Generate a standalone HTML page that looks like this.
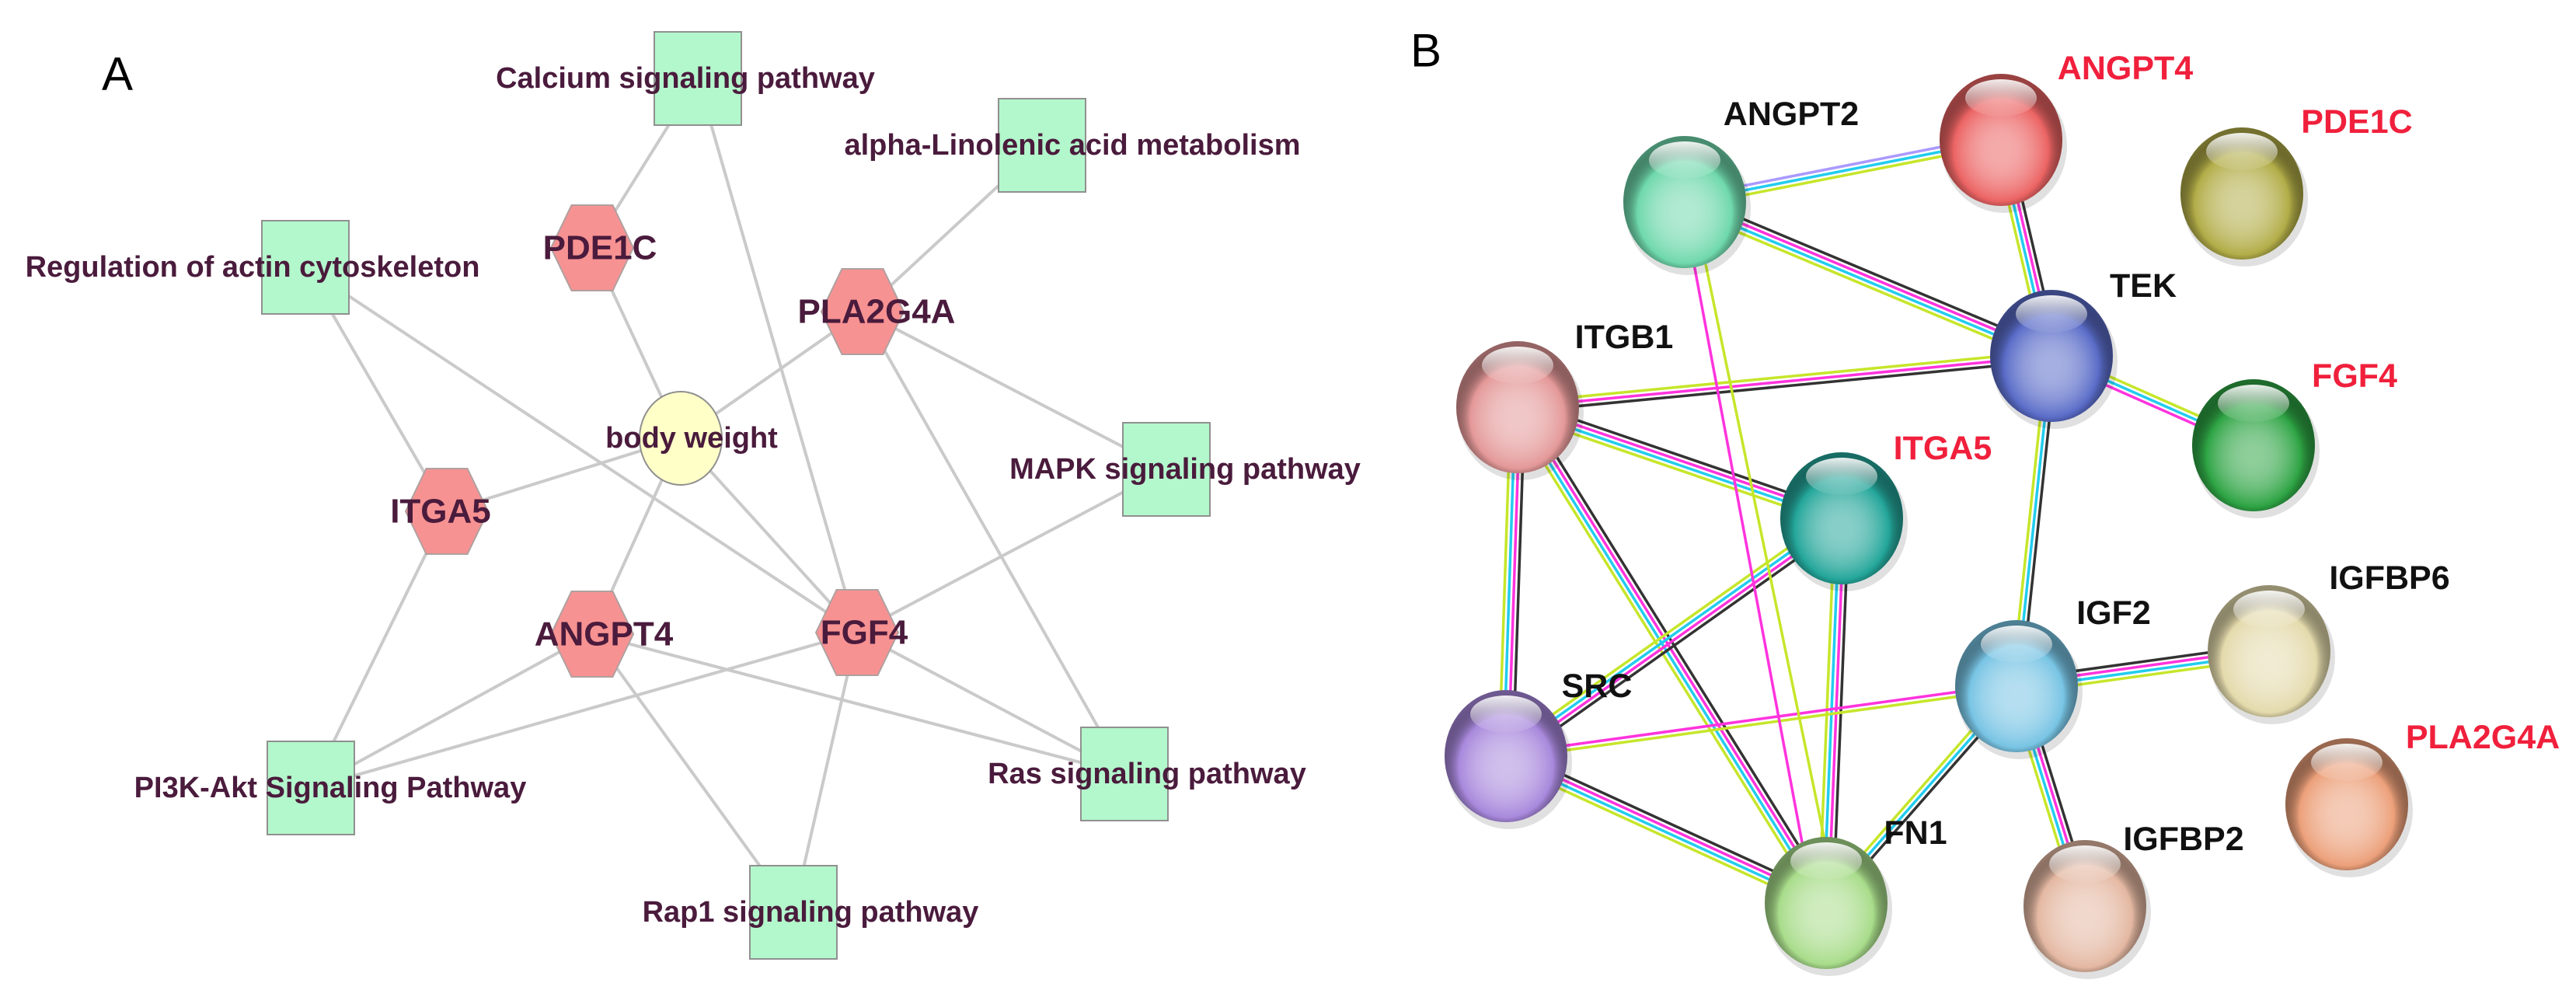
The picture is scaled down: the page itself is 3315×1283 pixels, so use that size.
<!DOCTYPE html>
<html><head><meta charset="utf-8"><style>
html,body{margin:0;padding:0;background:#fff;}
svg{display:block;}
.a{font-family:"Liberation Sans",sans-serif;font-weight:bold;fill:#4a1b3c;font-size:38px;text-anchor:middle;dominant-baseline:central;}
.h{font-size:44px;}
.b{font-family:"Liberation Sans",sans-serif;font-weight:bold;font-size:43px;text-anchor:middle;dominant-baseline:central;fill:#111;}
.r{fill:#f0203c;}
</style></head><body>
<svg id="s" width="3315" height="1283" viewBox="0 0 3315 1283" xmlns="http://www.w3.org/2000/svg">
<defs id="d"></defs>
<g id="ea"></g><g id="na"></g>
<g id="eb"></g><g id="nb"></g>
<text x="151" y="95" font-family="Liberation Sans, sans-serif" font-size="60" text-anchor="middle" dominant-baseline="central">A</text>
<text x="1835" y="65" font-family="Liberation Sans, sans-serif" font-size="60" text-anchor="middle" dominant-baseline="central">B</text>
<g id="la">
<text class="a" x="882" y="101">Calcium signaling pathway</text>
<text class="a" x="1380" y="187">alpha-Linolenic acid metabolism</text>
<text class="a" x="325" y="344">Regulation of actin cytoskeleton</text>
<text class="a" x="1525" y="604">MAPK signaling pathway</text>
<text class="a" x="425" y="1014">PI3K-Akt Signaling Pathway</text>
<text class="a" x="1476" y="996">Ras signaling pathway</text>
<text class="a" x="1043" y="1174">Rap1 signaling pathway</text>
<text class="a h" x="772" y="319">PDE1C</text>
<text class="a h" x="1128" y="401">PLA2G4A</text>
<text class="a h" x="567" y="658">ITGA5</text>
<text class="a h" x="777" y="816">ANGPT4</text>
<text class="a h" x="1112" y="814">FGF4</text>
<text class="a" x="890" y="564">body weight</text>
</g>
<g>
<text class="b" x="2305" y="147">ANGPT2</text>
<text class="b r" x="2735" y="88">ANGPT4</text>
<text class="b r" x="3033" y="157">PDE1C</text>
<text class="b" x="2758" y="368">TEK</text>
<text class="b" x="2090" y="434">ITGB1</text>
<text class="b r" x="3030" y="484">FGF4</text>
<text class="b r" x="2500" y="577">ITGA5</text>
<text class="b" x="3075" y="744">IGFBP6</text>
<text class="b" x="2720" y="789">IGF2</text>
<text class="b" x="2055" y="883">SRC</text>
<text class="b r" x="3195" y="949">PLA2G4A</text>
<text class="b" x="2465" y="1072">FN1</text>
<text class="b" x="2810" y="1080">IGFBP2</text>
</g>
</svg>
<script>
const NS="http://www.w3.org/2000/svg";
function el(t,a,p){const e=document.createElementNS(NS,t);for(const k in a)e.setAttribute(k,a[k]);p.appendChild(e);return e;}
const A={Cal:[898,101,'s'],Alp:[1341,187,'s'],Reg:[393,344,'s'],MAPK:[1501,604,'s'],PI3K:[400,1014,'s'],Ras:[1447,996,'s'],Rap1:[1021,1174,'s'],
PDE1C:[762,319,'h'],PLA:[1110,401,'h'],ITGA5:[575,658,'h'],ANGPT4:[762,816,'h'],FGF4:[1103,814,'h'],BW:[876,564,'c']};
const EA=[['Cal','PDE1C'],['Cal','FGF4'],['Alp','PLA'],['Reg','ITGA5'],['Reg','FGF4'],['PDE1C','BW'],['PLA','BW'],['PLA','MAPK'],['PLA','Ras'],['BW','ITGA5'],['BW','ANGPT4'],['BW','FGF4'],['ITGA5','PI3K'],['ANGPT4','PI3K'],['ANGPT4','Ras'],['ANGPT4','Rap1'],['FGF4','PI3K'],['FGF4','MAPK'],['FGF4','Ras'],['FGF4','Rap1']];
const ea=document.getElementById('ea'),na=document.getElementById('na');
EA.forEach(([a,b])=>el('line',{x1:A[a][0],y1:A[a][1],x2:A[b][0],y2:A[b][1],stroke:'#cacaca','stroke-width':4},ea));
for(const k in A){const [x,y,t]=A[k];
 if(t=='s')el('rect',{x:x-56,y:y-60,width:112,height:120,fill:'#b3f7cc',stroke:'#909090','stroke-width':2},na);
 else if(t=='h'){const w=53,h=55;el('polygon',{points:`${x-w},${y} ${x-w/2},${y-h} ${x+w/2},${y-h} ${x+w},${y} ${x+w/2},${y+h} ${x-w/2},${y+h}`,fill:'#f79292',stroke:'#b0a0a0','stroke-width':2},na);}
 else el('ellipse',{cx:x,cy:y,rx:53,ry:60,fill:'#ffffc8',stroke:'#909090','stroke-width':2},na);}
const B={ANGPT2:[2168,260,'#6fd8ac'],ANGPT4:[2575,180,'#ec6464'],PDE1C:[2885,249,'#b2ad48'],TEK:[2640,458,'#5a6cc8'],ITGB1:[1953,524,'#e49898'],FGF4:[2900,573,'#2ea444'],ITGA5:[2370,667,'#24a69a'],IGFBP6:[2920,838,'#e4daac'],IGF2:[2595,883,'#78c4e4'],SRC:[1938,973,'#a888dc'],PLA:[3020,1035,'#eca07a'],FN1:[2350,1162,'#a8dc8a'],IGFBP2:[2683,1166,'#e4b8a2']};
const K='#333',M='#ff33dd',C='#22ccee',Y='#c6e62a',P='#aa99ff';
const EB=[['ANGPT2','ANGPT4',[P,C,Y]],['ANGPT2','TEK',[K,M,C,Y]],['ANGPT4','TEK',[K,M,C,Y]],['TEK','ITGB1',[K,M,Y]],['TEK','FGF4',[Y,C,M]],['TEK','IGF2',[K,C,Y]],
['ITGB1','ITGA5',[K,M,C,Y]],['ITGB1','SRC',[K,M,C,Y]],['ITGB1','FN1',[K,M,C,Y]],['ITGA5','SRC',[K,M,C,Y]],['ITGA5','FN1',[K,M,C,Y]],['SRC','FN1',[K,M,C,Y]],['SRC','IGF2',[M,Y]],['IGF2','FN1',[K,C,Y]],['IGF2','IGFBP6',[K,M,C,Y]],['IGF2','IGFBP2',[K,M,C,Y]]];
const eb=document.getElementById('eb'),nb=document.getElementById('nb'),d=document.getElementById('d');
EB.forEach(([a,b,cs])=>{const [x1,y1]=B[a],[x2,y2]=B[b];const dx=x2-x1,dy=y2-y1,L=Math.hypot(dx,dy),nx=-dy/L,ny=dx/L;
 cs.forEach((c,i)=>{const o=(i-(cs.length-1)/2)*6;el('line',{x1:x1+nx*o,y1:y1+ny*o,x2:x2+nx*o,y2:y2+ny*o,stroke:c,'stroke-width':3.5},eb);});});
el('line',{x1:2180,y1:340,x2:2322,y2:1100,stroke:M,'stroke-width':3.5},eb);
el('line',{x1:2195,y1:340,x2:2352,y2:1100,stroke:Y,'stroke-width':3.5},eb);
let i=0;for(const k in B){const [x,y,c]=B[k];i++;
 const g=el('radialGradient',{id:'g'+i,cx:'50%',cy:'58%',r:'55%'},d);
 el('stop',{offset:'0','stop-color':'#fff','stop-opacity':'0.45'},g);el('stop',{offset:'0.7','stop-color':c},g);el('stop',{offset:'1','stop-color':'#000','stop-opacity':'0.35'},g);
 el('ellipse',{cx:x+4,cy:y+8,rx:81,ry:86,fill:'#000',opacity:0.12},nb);
 el('ellipse',{cx:x,cy:y,rx:79,ry:85,fill:c},nb);
 el('ellipse',{cx:x,cy:y,rx:79,ry:85,fill:'url(#g'+i+')'},nb);
 const h=el('linearGradient',{id:'h'+i,x1:0,y1:0,x2:0,y2:1},d);
 el('stop',{offset:'0','stop-color':'#fff','stop-opacity':'0.9'},h);el('stop',{offset:'1','stop-color':'#fff','stop-opacity':'0.05'},h);
 el('ellipse',{cx:x,cy:y-54,rx:46,ry:24,fill:'url(#h'+i+')'},nb);}
</script>
</body></html>
